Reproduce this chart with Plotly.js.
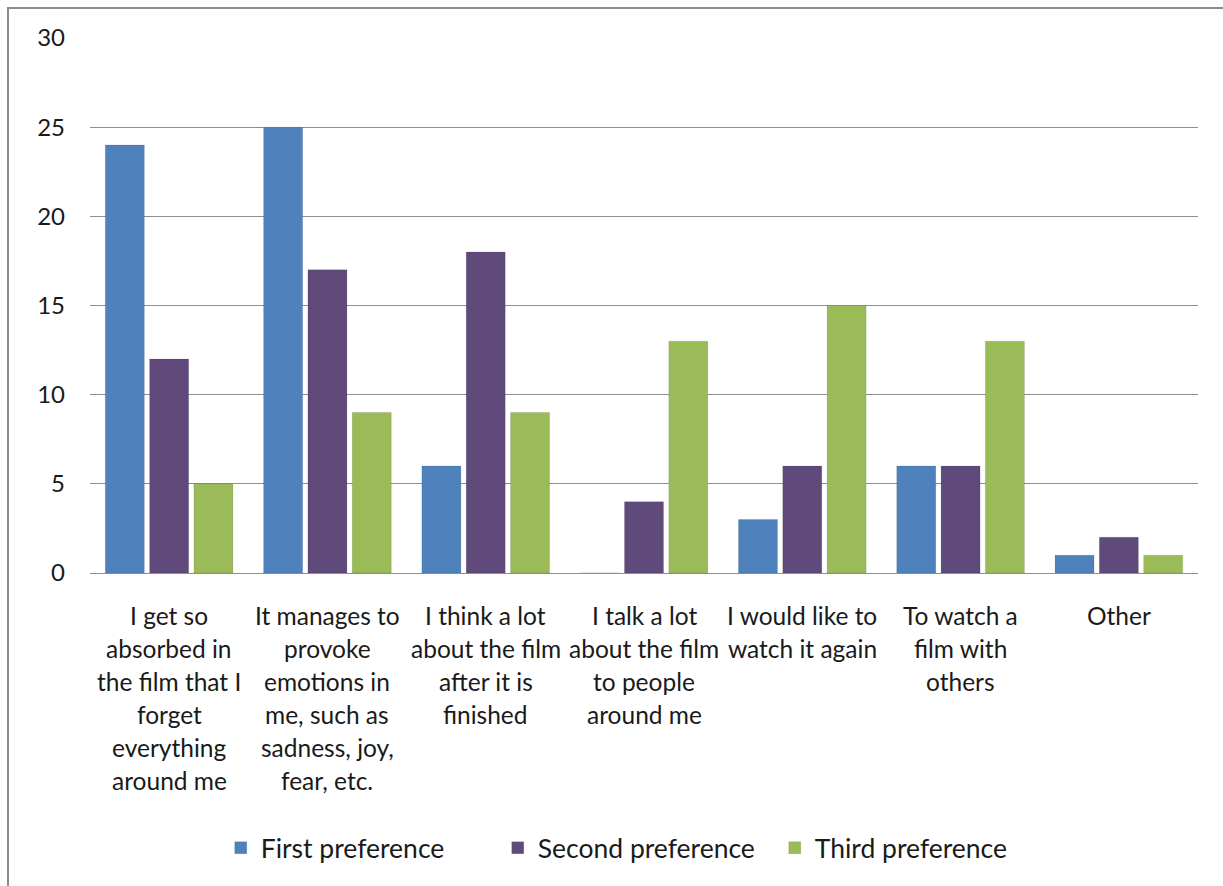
<!DOCTYPE html>
<html>
<head>
<meta charset="utf-8">
<script src="https://cdn.plot.ly/plotly-3.0.1.min.js"></script>
<style>
html,body{margin:0;padding:0;background:#fff;}
#wrap{position:relative;width:1223px;height:886px;overflow:hidden;}
#frame{position:absolute;left:7px;top:7px;width:1300px;height:1000px;border-left:2px solid #8c8c8c;border-top:2px solid #8c8c8c;pointer-events:none;z-index:5;}
#chart{position:absolute;left:0;top:0;width:1223px;height:886px;}
</style>
</head>
<body>
<div id="wrap"><div id="chart"></div><div id="frame"></div></div>
<script>
const categories = [
  "I get so<br>absorbed in<br>the film that I<br>forget<br>everything<br>around me",
  "It manages to<br>provoke<br>emotions in<br>me, such as<br>sadness, joy,<br>fear, etc.",
  "I think a lot<br>about the film<br>after it is<br>finished",
  "I talk a lot<br>about the film<br>to people<br>around me",
  "I would like to<br>watch it again",
  "To watch a<br>film with<br>others",
  "Other"
];
const seriesNames = ["First preference", "Second preference", "Third preference"];
const firstPref  = [24, 25, 6, 0, 3, 6, 1];
const secondPref = [12, 17, 18, 4, 6, 6, 2];
const thirdPref  = [5, 9, 9, 13, 15, 13, 1];
const yTicks = [0, 5, 10, 15, 20, 25, 30];

const colors = ["#4F81BD", "#604A7B", "#9BBB59"];
const fontFam = "Lato, 'Open Sans', sans-serif";
const values = [firstPref, secondPref, thirdPref];

const traces = values.map((v, i) => ({
  type: "bar",
  name: seriesNames[i],
  x: categories,
  y: v,
  marker: {color: colors[i], line: {color: "rgba(0,0,0,0.10)", width: 1}},
  hoverinfo: "x+y+name"
}));

const annotations = [];
categories.forEach(cat => {
  cat.split("<br>").forEach((line, j) => {
    annotations.push({
      x: cat, y: 0, xref: "x", yref: "y",
      text: line, showarrow: false,
      xanchor: "center", yanchor: "middle",
      yshift: -(42 + 33 * j),
      font: {family: fontFam, size: 24.5, color: "#1a1a1a"}
    });
  });
});

const layout = {
  width: 1223, height: 886,
  margin: {l: 90, r: 25, t: 38, b: 313},
  paper_bgcolor: "#ffffff",
  plot_bgcolor: "#ffffff",
  barmode: "group",
  bargap: 0.16,
  bargroupgap: 0.12,
  font: {family: fontFam, size: 24, color: "#1a1a1a"},
  xaxis: {
    type: "category",
    showticklabels: false,
    showline: true, linecolor: "#8e8e8e", linewidth: 1,
    showgrid: false, ticks: ""
  },
  yaxis: {
    range: [0, 30],
    tickvals: yTicks,
    ticktext: yTicks.map(String),
    showgrid: true, gridcolor: "#8e8e8e", gridwidth: 1,
    zeroline: false, showline: false, ticks: "",
    ticklabelstandoff: 24,
    tickfont: {family: fontFam, size: 24, color: "#1a1a1a"}
  },
  legend: {
    orientation: "h",
    x: 0.118, xanchor: "left",
    y: -0.514, yanchor: "middle",
    entrywidth: 232, entrywidthmode: "pixels",
    font: {family: fontFam, size: 26.5, color: "#1a1a1a"},
    traceorder: "normal"
  },
  annotations: annotations,
  showlegend: true
};

Plotly.newPlot("chart", traces, layout, {displayModeBar: false, staticPlot: true});
</script>
</body>
</html>
